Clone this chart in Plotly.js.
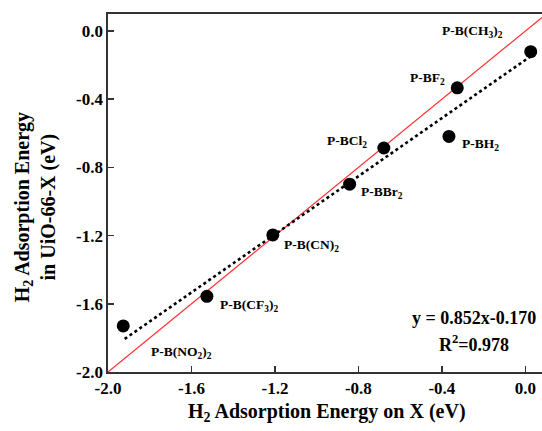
<!DOCTYPE html>
<html>
<head>
<meta charset="utf-8">
<script src="https://cdn.plot.ly/plotly-3.0.1.min.js"></script>
<style>html,body{margin:0;padding:0;background:#fff;}</style>
</head>
<body>
<div id="chart" style="width:542px;height:431px;"></div>
<script>
// Data
const names = ["P-B(NO<sub>2</sub>)<sub>2</sub>", "P-B(CF<sub>3</sub>)<sub>2</sub>", "P-B(CN)<sub>2</sub>", "P-BBr<sub>2</sub>", "P-BCl<sub>2</sub>", "P-BH<sub>2</sub>", "P-BF<sub>2</sub>", "P-B(CH<sub>3</sub>)<sub>2</sub>"];
const energyX = [-1.927, -1.526, -1.21, -0.842, -0.678, -0.366, -0.326, 0.026];
const energyUiO = [-1.73, -1.556, -1.196, -0.898, -0.686, -0.618, -0.333, -0.121];
const refX = [-2.0, 0.1];
const refY = [-2.0, 0.1];
const fitX = [-1.92, 0.02];
const fitY = [-1.806, -0.153];
const tickVals = [-2.0, -1.6, -1.2, -0.8, -0.4, 0.0];
const tickText = ["-2.0", "-1.6", "-1.2", "-0.8", "-0.4", "0.0"];
// label placement (annotation anchor positions)
const labelX = [-1.65, -1.323, -1.025, -0.689, -0.853, -0.214, -0.469, -0.253];
const labelY = [-1.884, -1.608, -1.255, -0.949, -0.649, -0.666, -0.278, 0.0];

const serif = "Liberation Serif, Times New Roman, serif";

const traces = [
  {x: refX, y: refY, mode: 'lines', line: {color: '#ff2a2a', width: 1.2}, hoverinfo: 'skip'},
  {x: fitX, y: fitY, mode: 'lines', line: {color: '#000', width: 2.6, dash: 'dot'}, hoverinfo: 'skip'},
  {x: energyX, y: energyUiO, mode: 'markers', marker: {color: '#000', size: 13}, cliponaxis: false}
];

const annotations = names.map((n, i) => ({
  x: labelX[i], y: labelY[i], xref: 'x', yref: 'y', text: n, showarrow: false,
  xanchor: 'center', yanchor: 'middle',
  font: {family: serif, size: 13.5, color: '#000', weight: 'bold'}
}));
annotations.push({
  xref: 'paper', yref: 'paper', x: 0.843, y: 0.151, text: 'y = 0.852x-0.170', showarrow: false,
  xanchor: 'center', yanchor: 'middle', font: {family: serif, size: 18, color: '#000', weight: 'bold'}
});
annotations.push({
  xref: 'paper', yref: 'paper', x: 0.843, y: 0.081, text: 'R<sup>2</sup>=0.978', showarrow: false,
  xanchor: 'center', yanchor: 'middle', font: {family: serif, size: 18, color: '#000', weight: 'bold'}
});
annotations.push({
  xref: 'paper', yref: 'paper', x: 0.505, y: -0.112, text: 'H<sub>2</sub> Adsorption Energy on X (eV)', showarrow: false,
  xanchor: 'center', yanchor: 'middle', font: {family: serif, size: 20, color: '#000', weight: 'bold'}
});
annotations.push({
  xref: 'paper', yref: 'paper', x: 0, xshift: -73, y: 0.46, text: 'H<sub>2</sub> Adsorption Energy<br>in UiO-66-X (eV)', showarrow: false,
  textangle: -90, xanchor: 'center', yanchor: 'middle', font: {family: serif, size: 20, color: '#000', weight: 'bold'}
});

const axisCommon = {
  showgrid: false, zeroline: false, showline: true, mirror: true,
  linecolor: '#333', linewidth: 1.6,
  ticks: 'inside', ticklen: 6, tickwidth: 1.5, tickcolor: '#333',
  tickvals: tickVals, ticktext: tickText,
  tickfont: {family: serif, size: 17, color: '#000', weight: 'bold'}
};

const layout = {
  width: 542, height: 431,
  margin: {l: 108, r: 0, t: 14, b: 59},
  paper_bgcolor: '#fff', plot_bgcolor: '#fff',
  showlegend: false,
  xaxis: Object.assign({}, axisCommon, {range: [-2.0, 0.08]}),
  yaxis: Object.assign({}, axisCommon, {range: [-2.0, 0.1]}),
  annotations: annotations
};

Plotly.newPlot('chart', traces, layout, {staticPlot: true, displayModeBar: false});
</script>
</body>
</html>
